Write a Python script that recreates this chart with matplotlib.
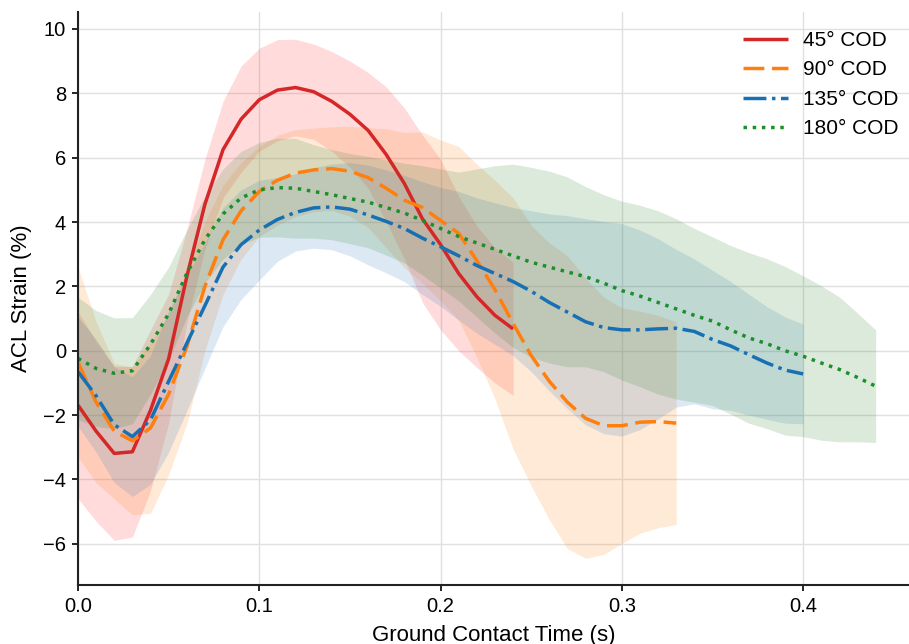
import numpy as np
import matplotlib.pyplot as plt

plt.rcParams['font.family'] = ['Liberation Sans', 'DejaVu Sans']

# mean ACL strain (%) and SD, sampled every 0.01 s of ground contact
strain_45 = [-1.69, -2.5, -3.19, -3.14, -1.85, -0.25, 2.3, 4.55, 6.25, 7.2,
             7.8, 8.1, 8.18, 8.05, 7.75, 7.35, 6.85, 6.1, 5.2, 4.1,
             3.3, 2.4, 1.68, 1.1, 0.68]
sd_45 = [2.9, 2.8, 2.7, 2.65, 2.5, 2.0, 1.45, 1.4, 1.5, 1.65,
         1.6, 1.57, 1.5, 1.48, 1.55, 1.65, 1.8, 2.1, 2.35, 2.6,
         2.65, 2.4, 2.2, 2.1, 2.07]

strain_90 = [-0.35, -1.6, -2.5, -2.8, -2.4, -1.35, 0.12, 2.0, 3.45, 4.35,
             4.95, 5.3, 5.52, 5.62, 5.66, 5.58, 5.38, 5.05, 4.68, 4.45,
             4.05, 3.65, 2.8, 1.9, 0.85, -0.15, -0.95, -1.6, -2.1, -2.33,
             -2.33, -2.22, -2.2, -2.25]
sd_90 = [2.95, 2.5, 2.1, 2.3, 2.65, 2.5, 2.4, 2.0, 1.7, 1.5,
         1.4, 1.4, 1.35, 1.3, 1.3, 1.4, 1.55, 1.85, 2.1, 2.35,
         2.5, 2.7, 3.0, 3.4, 3.9, 4.05, 4.3, 4.55, 4.35, 4.0,
         3.66, 3.45, 3.3, 3.15]

strain_135 = [-0.65, -1.4, -2.3, -2.67, -2.15, -0.95, 0.23, 1.4, 2.6, 3.3,
              3.75, 4.08, 4.3, 4.44, 4.47, 4.4, 4.22, 4.02, 3.8, 3.5,
              3.23, 2.95, 2.65, 2.4, 2.15, 1.85, 1.5, 1.2, 0.9, 0.72,
              0.65, 0.65, 0.68, 0.7, 0.6, 0.35, 0.15, -0.12, -0.38, -0.6,
              -0.72]
sd_135 = [1.7, 1.75, 1.8, 1.86, 2.0, 2.2, 2.1, 1.95, 1.85, 1.7,
          1.55, 1.3, 1.2, 1.25, 1.33, 1.45, 1.55, 1.6, 1.65, 1.75,
          1.85, 2.0, 2.1, 2.2, 2.3, 2.5, 2.75, 3.0, 3.2, 3.3,
          3.3, 3.1, 2.8, 2.45, 2.25, 2.15, 2.0, 1.88, 1.75, 1.65,
          1.55]

strain_180 = [-0.24, -0.55, -0.7, -0.62, 0.2, 1.15, 2.4, 3.45, 4.25, 4.75,
              5.0, 5.07, 5.05, 4.95, 4.85, 4.73, 4.62, 4.45, 4.28, 4.05,
              3.8, 3.55, 3.35, 3.15, 2.95, 2.75, 2.6, 2.45, 2.3, 2.1,
              1.87, 1.7, 1.5, 1.3, 1.1, 0.92, 0.65, 0.4, 0.22, 0.0,
              -0.17, -0.38, -0.58, -0.83, -1.1]
sd_180 = [1.9, 1.8, 1.72, 1.65, 1.55, 1.45, 1.35, 1.35, 1.4, 1.45,
          1.47, 1.53, 1.55, 1.45, 1.4, 1.4, 1.42, 1.48, 1.55, 1.7,
          1.85, 2.0, 2.3, 2.6, 2.85, 2.95, 2.98, 2.95, 2.8, 2.75,
          2.78, 2.82, 2.85, 2.8, 2.7, 2.62, 2.62, 2.65, 2.64, 2.62,
          2.5, 2.4, 2.25, 2.0, 1.75]

labels = ['45° COD', '90° COD', '135° COD', '180° COD']
means = [strain_45, strain_90, strain_135, strain_180]
sds = [sd_45, sd_90, sd_135, sd_180]
line_colors = ['#d62728', '#ff7f0e', '#1870b4', '#1a8f2a']
band_colors = ['#ff4d4d', '#ff8a24', '#2a78bc', '#3c8c3c']
band_alpha = [0.2, 0.18, 0.16, 0.18]
styles = [(0, ()), (0, (6, 2.2)), (0, (6.6, 1.6, 1, 1.6)), (0, (1, 1.65))]
dt = 0.01

fig, ax = plt.subplots(figsize=(9.09, 6.44), dpi=100)
fig.subplots_adjust(left=0.0858, right=1.0, bottom=0.0916, top=0.981)

# SD bands first, mean curves on top
for mean, sd, c, a in zip(means, sds, band_colors, band_alpha):
    mean = np.array(mean)
    sd = np.array(sd)
    t = np.arange(len(mean)) * dt
    ax.fill_between(t, mean - sd, mean + sd, color=c, alpha=a, lw=0)

for mean, c, ls, lab in zip(means, line_colors, styles, labels):
    t = np.arange(len(mean)) * dt
    ax.plot(t, mean, color=c, ls=ls, lw=2.5, label=lab)

ax.set_xlim(0, 0.4584)
ax.set_ylim(-7.28, 10.52)
ax.set_xticks([0.0, 0.1, 0.2, 0.3, 0.4])
ax.set_yticks(range(-6, 11, 2))
ax.grid(color='#e0e0e0', lw=1)
ax.set_axisbelow(True)
for side in ['top', 'right']:
    ax.spines[side].set_visible(False)
for side in ['left', 'bottom']:
    ax.spines[side].set_linewidth(1.5)
    ax.spines[side].set_color('#222222')
ax.tick_params(labelsize=14.5, width=1.2, length=4, pad=4.5)

ax.set_xlabel('Ground Contact Time (s)', fontsize=16, labelpad=6.5)
ax.set_ylabel('ACL Strain (%)', fontsize=16, labelpad=8)

leg = ax.legend(loc='upper right', frameon=False, fontsize=15,
                handlelength=2.2, handletextpad=0.7,
                bbox_to_anchor=(1.010, 1.0))

fig.savefig('out.png', dpi=100)
